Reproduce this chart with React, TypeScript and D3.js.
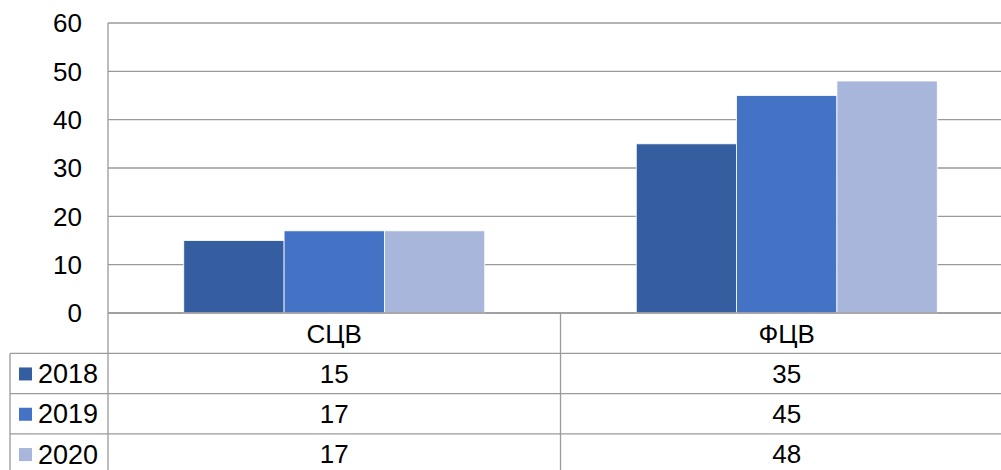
import React from 'react';
import * as d3 from 'd3';

const width = 1001,
      height = 470;

const categories = ['СЦВ', 'ФЦВ'];
const years = ['2018', '2019', '2020'];
const values2018 = [15, 35];
const values2019 = [17, 45];
const values2020 = [17, 48];
const yTicks = [0, 10, 20, 30, 40, 50, 60];
const colors = ['#355EA0', '#4472C4', '#A8B6DB'];

const series = [values2018, values2019, values2020];

const App = () => {
    const left = 108, top = 23, bottom = 313, rowH = 40.3;
    const font = '"Liberation Sans", Arial, sans-serif';

    const y = d3.scaleLinear().domain([0, 60]).range([bottom, top]);
    const x = d3.scaleBand().domain(categories).range([left, left + 2 * 452.5]).paddingInner(0);
    const xInner = d3.scaleBand().domain(years).range([0, x.bandwidth()]).paddingOuter(0.755).paddingInner(0);

    const grid = '#9a9a9a';
    const rowY = (i: number) => bottom + rowH * (i + 1);

    return (
        <svg width={width} height={height} style={{ position: 'absolute', left: 0, top: 0 }} fontFamily={font}>
            {/* gridlines */}
            {yTicks.map(t => (
                <line key={t} x1={left} x2={width} y1={y(t)} y2={y(t)} stroke={grid} strokeWidth={1.3} />
            ))}
            {/* bars */}
            {categories.map((c, ci) => (
                <g key={c} transform={`translate(${x(c)},0)`}>
                    {years.map((yr, si) => (
                        <rect key={yr}
                            x={xInner(yr)}
                            y={y(series[si][ci])}
                            width={xInner.bandwidth()}
                            height={bottom - y(series[si][ci])}
                            fill={colors[si]}
                            stroke="#fff" strokeWidth={0.8} />
                    ))}
                </g>
            ))}
            {/* y tick labels */}
            {yTicks.map(t => (
                <text key={t} x={82} y={y(t)} dy="0.36em" textAnchor="end" fontSize={26}>{t}</text>
            ))}
            {/* vertical table lines */}
            <line x1={left} x2={left} y1={top} y2={height} stroke={grid} strokeWidth={1.3} />
            {categories.map((c, ci) => ci > 0 && (
                <line key={c} x1={x(c)} x2={x(c)} y1={bottom} y2={height} stroke={grid} strokeWidth={1.3} />
            ))}
            <line x1={10} x2={10} y1={rowY(0)} y2={height} stroke={grid} strokeWidth={1.3} />
            {/* horizontal table lines */}
            <line x1={left} x2={width} y1={bottom} y2={bottom} stroke={grid} strokeWidth={1.5} />
            {years.map((yr, i) => (
                <line key={yr} x1={10} x2={width} y1={rowY(i)} y2={rowY(i)} stroke={grid} strokeWidth={1.3} />
            ))}
            {/* category headers */}
            {categories.map(c => (
                <text key={c} x={(x(c) as number) + x.bandwidth() / 2} y={(bottom + rowY(0)) / 2} dy="0.36em"
                    textAnchor="middle" fontSize={26}>{c}</text>
            ))}
            {/* legend + values rows */}
            {years.map((yr, si) => {
                const cy = (rowY(si) + rowY(si + 1)) / 2;
                return (
                    <g key={yr}>
                        <rect x={19} y={cy - 6} width={13} height={13} fill={colors[si]} />
                        <text x={38} y={cy} dy="0.36em" fontSize={27}>{yr}</text>
                        {categories.map((c, ci) => (
                            <text key={c} x={(x(c) as number) + x.bandwidth() / 2} y={cy} dy="0.36em"
                                textAnchor="middle" fontSize={26}>{series[si][ci]}</text>
                        ))}
                    </g>
                );
            })}
        </svg>
    );
};

export default App;
